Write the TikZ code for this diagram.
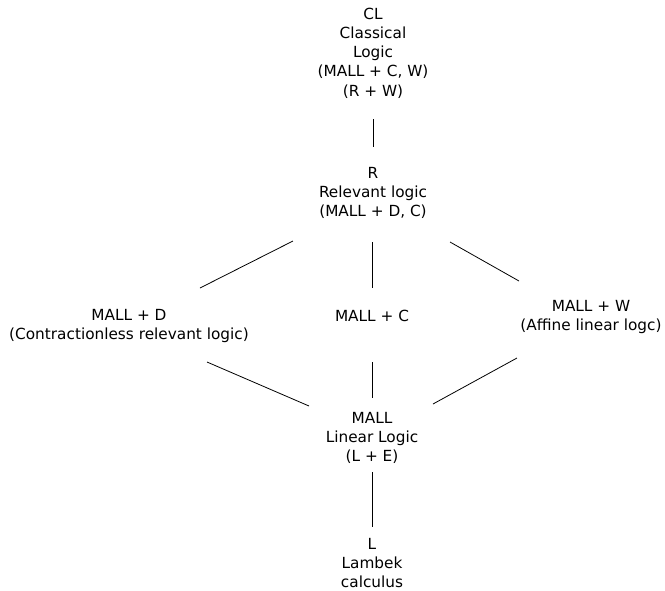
\documentclass[tikz,border=0pt]{standalone}
\usepackage{fontspec}
\setmainfont{DejaVu Sans}
\begin{document}
\begin{tikzpicture}[x=1pt,y=-1pt,
  lbl/.style={align=center,inner sep=0pt,font=\fontsize{15.3}{19.2}\selectfont},
  edge/.style={line width=0.8pt,black}]
\useasboundingbox (0,0) rectangle (665,590);
\node[lbl] (CL) at (373,53) {CL\\Classical\\Logic\\(MALL + C, W)\\(R + W)};
\node[lbl] (R) at (373,193) {R\\Relevant logic\\(MALL + D, C)};
\node[lbl] (MD) at (129,326) {MALL + D\\(Contractionless relevant logic)};
\node[lbl] (MC) at (372,316) {MALL + C};
\node[lbl] (MW) at (591,317) {MALL + W\\(Affine linear logc)};
\node[lbl] (MALL) at (372,438) {MALL\\Linear Logic\\(L + E)};
\node[lbl] (L) at (372,563) {L\\Lambek\\calculus};
% connector end points
\coordinate (cl-s) at (373,119);
\coordinate (r-n) at (373,147);
\coordinate (r-sw) at (293,241);
\coordinate (md-ne) at (200,288);
\coordinate (r-s) at (372.5,242);
\coordinate (mc-n) at (372.5,288);
\coordinate (r-se) at (450,242);
\coordinate (mw-nw) at (519,281);
\coordinate (md-se) at (207,362);
\coordinate (mall-nw) at (309,406);
\coordinate (mc-s) at (372,362);
\coordinate (mall-n) at (372,398);
\coordinate (mw-sw) at (517,358);
\coordinate (mall-ne) at (433,404);
\coordinate (mall-s) at (372,472);
\coordinate (l-n) at (372,527);
\draw[edge] (cl-s) -- (r-n);
\draw[edge] (r-sw) -- (md-ne);
\draw[edge] (r-s) -- (mc-n);
\draw[edge] (r-se) -- (mw-nw);
\draw[edge] (md-se) -- (mall-nw);
\draw[edge] (mc-s) -- (mall-n);
\draw[edge] (mw-sw) -- (mall-ne);
\draw[edge] (mall-s) -- (l-n);
\end{tikzpicture}
\end{document}
